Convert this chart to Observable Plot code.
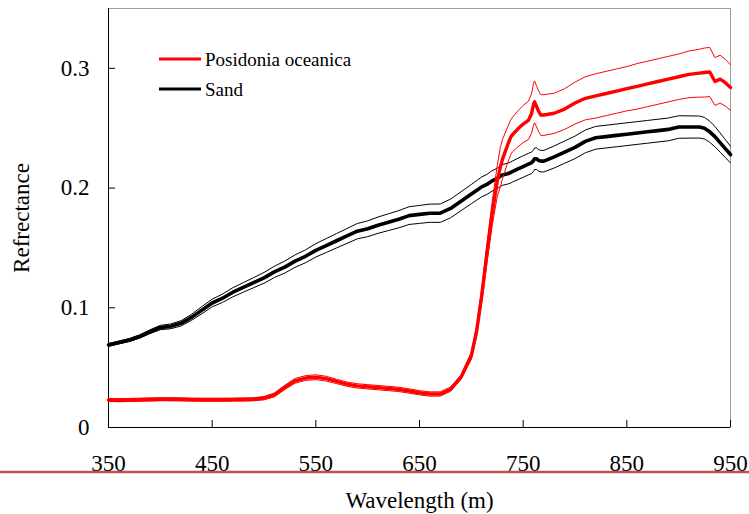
<!DOCTYPE html>
<html>
<head>
<meta charset="utf-8">
<script src="https://cdn.jsdelivr.net/npm/d3@7"></script>
<script src="https://cdn.jsdelivr.net/npm/@observablehq/plot@0.6"></script>
<style>
  html, body { margin: 0; padding: 0; background: #fff; }
  #chart { position: relative; width: 749px; height: 514px; }
</style>
</head>
<body>
<div id="chart"></div>
<script>
// ---- data ----
const wavelengths = [350,360,370,380,390,400,410,420,430,440,450,460,470,480,490,500,510,520,530,540,550,560,570,580,590,600,610,620,630,640,650,660,670,680,690,700,705,710,715,720,725,728,730,735,738,740,745,750,755,758,760,761,763,765,767,770,780,790,800,810,820,830,840,850,860,870,880,890,900,910,920,925,930,935,940,945,950];

const sandMean = [0.069,0.071,0.073,0.076,0.080,0.0835,0.0845,0.087,0.092,0.098,0.104,0.108,0.113,0.117,0.121,0.125,0.130,0.134,0.139,0.143,0.148,0.152,0.156,0.160,0.164,0.166,0.169,0.1715,0.174,0.177,0.178,0.179,0.179,0.183,0.189,0.195,0.198,0.201,0.203,0.206,0.208,0.210,0.211,0.212,0.213,0.214,0.216,0.218,0.220,0.221,0.223,0.2245,0.2245,0.223,0.2225,0.2225,0.226,0.230,0.234,0.239,0.242,0.243,0.244,0.245,0.246,0.247,0.248,0.249,0.251,0.251,0.251,0.250,0.247,0.243,0.238,0.233,0.228];

const sandSd = [0.0012,0.0012,0.0013,0.0014,0.0016,0.0018,0.0020,0.0022,0.0025,0.0030,0.0032,0.0035,0.0038,0.0040,0.0042,0.0045,0.0047,0.0050,0.0052,0.0054,0.0056,0.0058,0.0060,0.0062,0.0064,0.0066,0.0068,0.0070,0.0072,0.0074,0.0075,0.0076,0.0077,0.0078,0.0079,0.0080,0.0082,0.0083,0.0084,0.0085,0.0086,0.0086,0.0087,0.0087,0.0088,0.0088,0.0089,0.0090,0.0090,0.0090,0.0090,0.0090,0.0090,0.0090,0.0090,0.0090,0.0092,0.0093,0.0094,0.0095,0.0095,0.0095,0.0095,0.0095,0.0095,0.0095,0.0095,0.0095,0.0094,0.0093,0.0092,0.0090,0.0088,0.0085,0.0080,0.0075,0.0070];

const posidoniaMean = [0.0230,0.0228,0.0230,0.0232,0.0234,0.0236,0.0236,0.0235,0.0233,0.0232,0.0232,0.0232,0.0233,0.0234,0.0236,0.0245,0.0272,0.0335,0.0390,0.0413,0.0420,0.0408,0.0385,0.0362,0.0348,0.0340,0.0333,0.0326,0.0318,0.0305,0.0290,0.0280,0.0280,0.0320,0.0420,0.0600,0.0800,0.1100,0.1450,0.1780,0.2060,0.2175,0.2240,0.2360,0.2425,0.2450,0.2495,0.2535,0.2565,0.2620,0.2700,0.2720,0.2680,0.2640,0.2610,0.2610,0.2625,0.2660,0.2710,0.2750,0.2770,0.2790,0.2810,0.2830,0.2850,0.2870,0.2890,0.2910,0.2930,0.2950,0.2960,0.2965,0.2970,0.2890,0.2910,0.2880,0.2840];

const posidoniaSd = [0.0013,0.0013,0.0013,0.0013,0.0013,0.0013,0.0013,0.0013,0.0013,0.0013,0.0013,0.0013,0.0013,0.0013,0.0013,0.0014,0.0016,0.0018,0.0020,0.0020,0.0020,0.0020,0.0018,0.0018,0.0018,0.0018,0.0018,0.0018,0.0018,0.0018,0.0018,0.0018,0.0018,0.0018,0.0018,0.0030,0.0040,0.0060,0.0080,0.0100,0.0130,0.0165,0.0165,0.0150,0.0145,0.0145,0.0150,0.0155,0.0160,0.0165,0.0175,0.0175,0.0170,0.0170,0.0170,0.0170,0.0168,0.0170,0.0175,0.0180,0.0185,0.0185,0.0185,0.0185,0.0190,0.0190,0.0190,0.0190,0.0190,0.0195,0.0200,0.0205,0.0205,0.0200,0.0200,0.0195,0.0190];

const xTicks = [350,450,550,650,750,850,950];
const yTicks = [0,0.1,0.2,0.3];
const seriesNames = ["Posidonia oceanica","Sand"];
const seriesColors = ["#ff0000","#000000"];
const xLabel = "Wavelength (m)";
const yLabel = "Refrectance";

// ---- build table ----
function table(mean, sd) {
  return wavelengths.map((w, i) => ({w, m: mean[i], lo: mean[i] - sd[i], hi: mean[i] + sd[i]}));
}
const sand = table(sandMean, sandSd);
const posidonia = table(posidoniaMean, posidoniaSd);

const W = 749, H = 514, mL = 108, mR = 19, mT = 8, mB = 87;
const fw = W - mL - mR, fh = H - mT - mB;
const xDomain = [350, 950], yDomain = [0, 0.35];
const tickLen = 7;
const xTickTop = yDomain[0] + tickLen / fh * (yDomain[1] - yDomain[0]);
const yTickRight = xDomain[0] + tickLen / fw * (xDomain[1] - xDomain[0]);

function bands(data, color, thick) {
  return [
    Plot.line(data, {x: "w", y: "hi", stroke: color, strokeWidth: 1}),
    Plot.line(data, {x: "w", y: "lo", stroke: color, strokeWidth: 1}),
    Plot.line(data, {x: "w", y: "m", stroke: color, strokeWidth: thick})
  ];
}

const svg = Plot.plot({
  width: W, height: H,
  marginLeft: mL, marginRight: mR, marginTop: mT, marginBottom: mB,
  style: {fontFamily: "'Liberation Serif', 'Times New Roman', serif", fontSize: "23px", background: "white", color: "black", overflow: "visible"},
  x: {domain: xDomain},
  y: {domain: yDomain},
  marks: [
    Plot.frame({stroke: "#a0a0a0"}),
    Plot.axisX({ticks: xTicks, tickSize: 0, tickPadding: 27, tickFormat: d => String(d),
      label: xLabel, labelAnchor: "center", labelOffset: 80, labelArrow: "none"}),
    Plot.axisY({ticks: yTicks, tickSize: 0, tickPadding: 19, tickFormat: d => d === 0 ? "0" : d.toFixed(1),
      label: yLabel, labelAnchor: "center", labelOffset: 96, labelArrow: "none"}),
    Plot.ruleX(xTicks, {x: d => d, y1: yDomain[0], y2: xTickTop, stroke: "black"}),
    Plot.ruleY(yTicks, {y: d => d, x1: xDomain[0], x2: yTickRight, stroke: "black"}),
    Plot.ruleY([0], {stroke: "black"}),
    Plot.ruleX([350], {stroke: "black"}),
    ...bands(sand, seriesColors[1], 3.6),
    ...bands(posidonia, seriesColors[0], 3.4)
  ]
});

const s = d3.select(svg);
// decorative rule beneath tick labels
s.append("line").attr("x1", 0).attr("x2", W).attr("y1", 472).attr("y2", 472)
  .attr("stroke", "#c0504d").attr("stroke-width", 2.6);
// legend
seriesNames.forEach((name, i) => {
  const y = 59 + i * 30;
  s.append("line").attr("x1", 159).attr("x2", 201).attr("y1", y).attr("y2", y)
    .attr("stroke", seriesColors[i]).attr("stroke-width", 3.2);
  s.append("text").attr("x", 205).attr("y", y + 6.5).attr("font-size", 19)
    .attr("text-anchor", "start").attr("fill", "black").text(name);
});

document.getElementById("chart").appendChild(svg);
</script>
</body>
</html>
